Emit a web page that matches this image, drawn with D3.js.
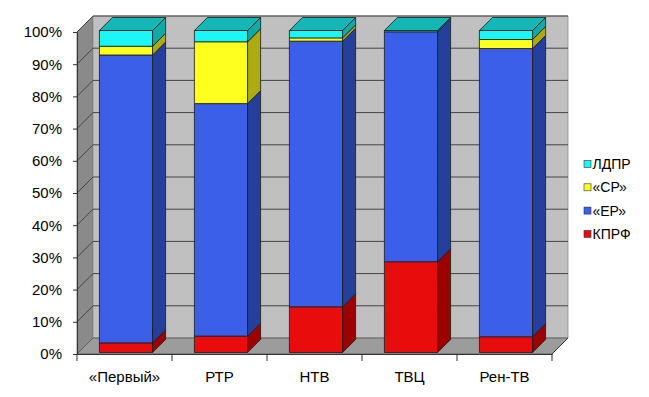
<!doctype html>
<html>
<head>
    <meta charset="utf-8">
    <title>Stacked 3D columns</title>
    <style>
    body { margin: 0; background: #fff; }
    text { font-family: "Liberation Sans", Arial, sans-serif; fill: #000; }
    </style>
    <script src="https://cdn.jsdelivr.net/npm/d3@7"></script>
</head>
<body>
<script>
// data, percent of airtime
var channels = ["«Первый»", "РТР", "НТВ", "ТВЦ", "Рен-ТВ"];
var parties = ["КПРФ", "«ЕР»", "«СР»", "ЛДПР"];
var kprf = [3.0, 5.1, 14.2, 28.2, 4.9];
var er   = [89.4, 72.2, 82.5, 71.4, 89.5];
var sr   = [2.7, 19.2, 1.0, 0.0, 2.8];
var ldpr = [4.9, 3.5, 2.3, 0.4, 2.8];
var yTicks = d3.range(0, 101, 10);

var colors = {
    "КПРФ": { front: "#e80c0c", side: "#9c0000", top: "#b80808" },
    "«ЕР»": { front: "#3b5fe8", side: "#243f9c", top: "#2c4cc0" },
    "«СР»": { front: "#ffff1e", side: "#acac12", top: "#d0d010" },
    "ЛДПР": { front: "#1cf6f6", side: "#12a8a8", top: "#14b6b6" }
};

var series = [kprf, er, sr, ldpr];
var rows = channels.map(function(c, i) {
    var r = { channel: c };
    parties.forEach(function(p, j) { r[p] = series[j][i]; });
    return r;
});
var stacked = d3.stack().keys(parties)(rows);

var W = 649, H = 397;
var depth = 16;          // wall depth
var barOff = 1.5, barDepth = 13;

var x = d3.scaleBand().domain(channels).range([77, 552]);
var y = d3.scaleLinear().domain([0, 100]).range([354, 32]);

var svg = d3.select("body").append("svg")
    .attr("width", W)
    .attr("height", H);

function pts(a) { return a.map(function(p) { return p.join(","); }).join(" "); }

var x0 = x.range()[0], x1 = x.range()[1];
var walls = svg.append("g");

// side wall
walls.append("polygon")
    .attr("points", pts([[x0, y(0)], [x0, y(100)], [x0 + depth, y(100) - depth], [x0 + depth, y(0) - depth]]))
    .attr("fill", "#8a8a8a").attr("stroke", "#6a6a6a").attr("stroke-width", 0.8);
// back wall
walls.append("polygon")
    .attr("points", pts([[x0 + depth, y(100) - depth], [x1 + depth, y(100) - depth], [x1 + depth, y(0) - depth], [x0 + depth, y(0) - depth]]))
    .attr("fill", "#c0c0c0").attr("stroke", "#8a8a8a").attr("stroke-width", 0.8);
// floor
walls.append("polygon")
    .attr("points", pts([[x0, y(0)], [x1, y(0)], [x1 + depth, y(0) - depth], [x0 + depth, y(0) - depth]]))
    .attr("fill", "#9c9c9c").attr("stroke", "#555").attr("stroke-width", 0.8);

// gridlines
var grid = svg.append("g").attr("stroke", "#444").attr("stroke-width", 1).attr("fill", "none");
yTicks.forEach(function(t) {
    if (t === 0) return;
    grid.append("path")
        .attr("d", "M" + x0 + "," + y(t) + "L" + (x0 + depth) + "," + (y(t) - depth) + "L" + (x1 + depth) + "," + (y(t) - depth));
});

// bars
var bw = x.bandwidth() * 0.56;
var bars = svg.append("g").attr("stroke", "#1a1a1a").attr("stroke-width", 0.8).attr("stroke-linejoin", "round");

channels.forEach(function(c, i) {
    var bx0 = x(c) + (x.bandwidth() - bw) / 2 + barOff;
    var bx1 = bx0 + bw;
    var topVal = 0, topKey = null;
    stacked.forEach(function(s) {
        var d = s[i];
        var h = d[1] - d[0];
        if (h <= 0) return;
        var yb = y(d[0]) - barOff, yt = y(d[1]) - barOff;
        var col = colors[s.key];
        bars.append("rect")
            .attr("x", bx0).attr("y", yt)
            .attr("width", bw).attr("height", yb - yt)
            .attr("fill", col.front);
        bars.append("polygon")
            .attr("points", pts([[bx1, yb], [bx1, yt], [bx1 + barDepth, yt - barDepth], [bx1 + barDepth, yb - barDepth]]))
            .attr("fill", col.side);
        topVal = d[1]; topKey = s.key;
    });
    var yt = y(topVal) - barOff;
    bars.append("polygon")
        .attr("points", pts([[bx0, yt], [bx1, yt], [bx1 + barDepth, yt - barDepth], [bx0 + barDepth, yt - barDepth]]))
        .attr("fill", colors[topKey].top);
});

// y axis
var yAxis = svg.append("g")
    .attr("transform", "translate(" + x0 + ",0)")
    .call(d3.axisLeft(y).tickValues(yTicks).tickSize(4).tickPadding(11).tickFormat(function(d) { return d + "%"; }));
yAxis.select(".domain").attr("stroke", "#333");
yAxis.selectAll(".tick line").attr("stroke", "#333");
yAxis.selectAll("text").style("font-size", "15px").style("font-family", "'Liberation Sans', Arial, sans-serif").attr("fill", "#000");

// x axis
var xAxis = svg.append("g")
    .attr("transform", "translate(0," + y(0) + ")")
    .call(d3.axisBottom(x).tickSize(0).tickPadding(17));
xAxis.select(".domain").attr("stroke", "#333");
xAxis.selectAll("text").style("font-size", "15px").style("font-family", "'Liberation Sans', Arial, sans-serif").attr("fill", "#000");
var bounds = channels.map(function(c) { return x(c); }).concat([x1]);
xAxis.selectAll(".sep").data(bounds).enter().append("line")
    .attr("x1", function(d) { return d; }).attr("x2", function(d) { return d; })
    .attr("y1", 0).attr("y2", 7)
    .attr("stroke", "#333");
xAxis.append("line")
    .attr("x1", x1).attr("y1", 0).attr("x2", x1 + depth).attr("y2", -depth)
    .attr("stroke", "#333");

// legend
var legend = svg.append("g").attr("transform", "translate(584,164)");
var order = parties.slice().reverse();
var li = legend.selectAll("g").data(order).enter().append("g")
    .attr("transform", function(d, i) { return "translate(0," + (i * 23.3) + ")"; });
li.append("rect")
    .attr("x", 0).attr("y", -3.5).attr("width", 7).attr("height", 7)
    .attr("fill", function(d) { return colors[d].front; })
    .attr("stroke", "#333").attr("stroke-width", 0.6);
li.append("text")
    .attr("x", 8.5).attr("y", 0).attr("dy", "0.36em")
    .style("font-size", "14px")
    .text(function(d) { return d; });
</script>
</body>
</html>
